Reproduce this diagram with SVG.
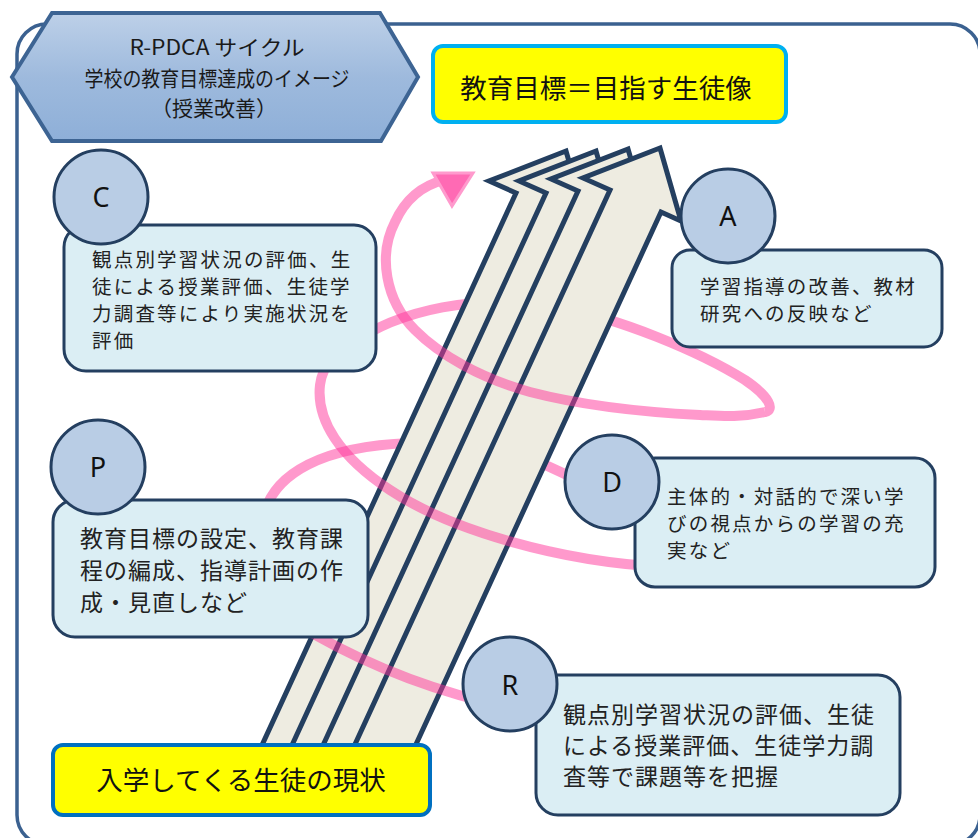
<svg xmlns="http://www.w3.org/2000/svg" width="978" height="838" viewBox="0 0 978 838">
  <defs>
    <linearGradient id="hexFill" x1="0" y1="0" x2="0" y2="1">
      <stop offset="0" stop-color="#BDD0E8"/>
      <stop offset="0.5" stop-color="#9EBADD"/>
      <stop offset="1" stop-color="#8EAFD8"/>
    </linearGradient>
    <!-- one broad upward arrow; copies are shifted to form the stack -->
    <polygon id="bigArrow" points="660,148 681,221 661,212 395,790 334,790 610,190 583,178"/>
  </defs>
  <style>
    .frame{fill:#FFFFFF;stroke:#3B6190;stroke-width:3.5}
    .arrow{fill:#EEECE1;stroke:#243F60;stroke-width:5;stroke-linejoin:miter}
    .ring{fill:none;stroke:#FF3399;stroke-opacity:0.5;stroke-width:10}
    .tip{fill:#FF6AB4;stroke:#FF9ACD;stroke-width:3}
    .badge{fill:#B9CDE5;stroke:#243F60;stroke-width:3}
    .card{fill:#DBEEF4;stroke:#243F60;stroke-width:3}
    .letter{font-family:"Noto Sans","Liberation Sans",sans-serif;font-size:27px;fill:#111111;text-anchor:middle}
    .jp{font-family:"Noto Sans CJK JP","Noto Sans",sans-serif;fill:#222222}
    .s{font-size:19.5px;letter-spacing:2.2px}
    .m{font-size:23px;letter-spacing:1px}
    .l{font-size:26.5px;fill:#111111;text-anchor:middle}
    .hex{font-family:"Noto Sans CJK JP","Noto Sans",sans-serif;font-size:21px;fill:#1A1A1A;text-anchor:middle}
    .goal{fill:#FFFF00;stroke-width:4}
  </style>

  <rect width="978" height="838" fill="#FFFFFF"/>
  <rect class="frame" x="17" y="24" width="963" height="821" rx="30"/>

  <g id="connectors">
    <!-- spiral parts passing behind the arrows -->
    <path class="ring" d="M262,525 C268,470 330,446 410,443 C480,441 535,455 585,485"/>
    <path class="ring" d="M350,345 C400,308 480,295 550,305 C620,318 700,352 745,380 C770,397 775,410 765,412"/>

    <!-- stacked arrows -->
    <use href="#bigArrow" class="arrow" transform="translate(-94,3)"/>
    <use href="#bigArrow" class="arrow" transform="translate(-64,3)"/>
    <use href="#bigArrow" class="arrow" transform="translate(-32,1)"/>
    <use href="#bigArrow" class="arrow"/>

    <!-- spiral parts passing in front of the arrows -->
    <path class="ring" d="M485,702 Q380,676 290,620"/>
    <path class="ring" d="M665,567 C560,562 450,530 390,490 C340,457 316,420 320,385 C323,362 338,350 355,342"/>
    <path class="ring" d="M765,412 C740,418 720,416 700,415 C640,412 580,405 530,392 C480,378 440,355 415,330 C385,300 378,255 395,222 C405,200 420,186 444,180"/>
    <polygon class="tip" points="433,173 473,173 452,206"/>
  </g>

  <g id="node-c">
    <rect class="card" x="64" y="225" width="312" height="146" rx="22"/>
    <circle class="badge" cx="101" cy="197" r="47"/>
    <text class="letter" x="101" y="207">C</text>
    <text class="jp s" x="92" y="267"><tspan x="92">観点別学習状況の評価、生</tspan><tspan x="92" dy="27">徒による授業評価、生徒学</tspan><tspan x="92" dy="27">力調査等により実施状況を</tspan><tspan x="92" dy="27">評価</tspan></text>
  </g>

  <g id="node-a">
    <rect class="card" x="672" y="250" width="270" height="97" rx="18"/>
    <circle class="badge" cx="728" cy="216" r="47"/>
    <text class="letter" x="728" y="226">A</text>
    <text class="jp s" x="700" y="294"><tspan x="700">学習指導の改善、教材</tspan><tspan x="700" dy="27">研究への反映など</tspan></text>
  </g>

  <g id="node-d">
    <rect class="card" x="635" y="458" width="300" height="129" rx="20"/>
    <circle class="badge" cx="612" cy="482" r="47"/>
    <text class="letter" x="612" y="492">D</text>
    <text class="jp s" x="667" y="504"><tspan x="667">主体的・対話的で深い学</tspan><tspan x="667" dy="27">びの視点からの学習の充</tspan><tspan x="667" dy="27">実など</tspan></text>
  </g>

  <g id="node-p">
    <rect class="card" x="53" y="500" width="315" height="137" rx="22"/>
    <circle class="badge" cx="98" cy="467" r="47"/>
    <text class="letter" x="98" y="477">P</text>
    <text class="jp m" x="80" y="547"><tspan x="80">教育目標の設定、教育課</tspan><tspan x="80" dy="32">程の編成、指導計画の作</tspan><tspan x="80" dy="32">成・見直しなど</tspan></text>
  </g>

  <g id="node-r">
    <rect class="card" x="536" y="675" width="364" height="140" rx="22"/>
    <circle class="badge" cx="510" cy="684" r="47"/>
    <text class="letter" x="510" y="695">R</text>
    <text class="jp m" x="563" y="723"><tspan x="563">観点別学習状況の評価、生徒</tspan><tspan x="563" dy="31">による授業評価、生徒学力調</tspan><tspan x="563" dy="31">査等で課題等を把握</tspan></text>
  </g>

  <g id="title">
    <polygon points="12,77 52,13 380,13 418,77 381,141 52,141" fill="url(#hexFill)" stroke="#3D6493" stroke-width="4" stroke-linejoin="miter"/>
    <text class="hex" x="217" y="55" textLength="175" lengthAdjust="spacingAndGlyphs">R-PDCA サイクル</text>
    <text class="hex" x="217" y="86" textLength="265" lengthAdjust="spacingAndGlyphs">学校の教育目標達成のイメージ</text>
    <text class="hex" x="214" y="116" textLength="126" lengthAdjust="spacingAndGlyphs">（授業改善）</text>
  </g>

  <g id="goal">
    <rect class="goal" x="433" y="46" width="353" height="76" rx="10" stroke="#00B0F0"/>
    <text class="jp l" x="606" y="98">教育目標＝目指す生徒像</text>
  </g>

  <g id="start">
    <rect class="goal" x="53" y="745" width="377" height="70" rx="10" stroke="#0070C0"/>
    <text class="jp l" x="241" y="790">入学してくる生徒の現状</text>
  </g>
</svg>
